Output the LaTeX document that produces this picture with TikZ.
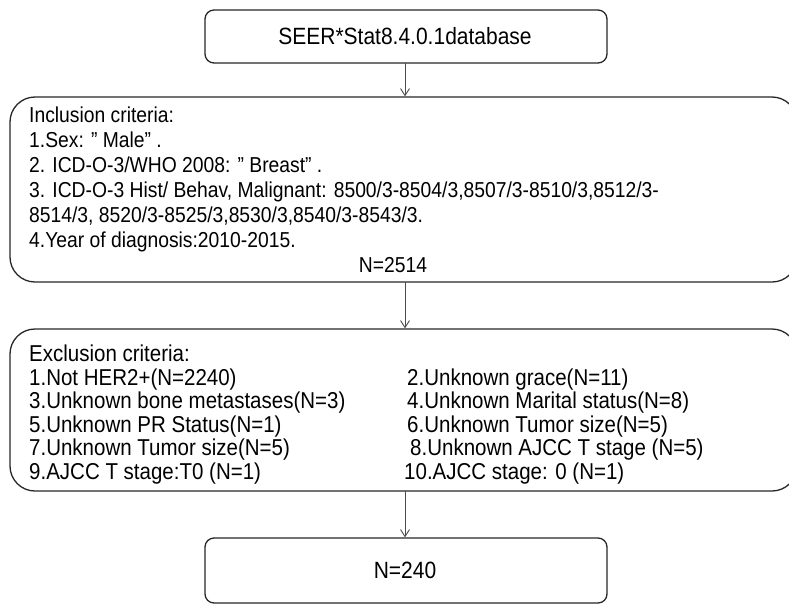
\documentclass[tikz,border=0pt]{standalone}
\usepackage{fontspec}
\setmainfont{Liberation Sans}
\usetikzlibrary{arrows.meta}
% slightly tall lettering
\newcommand{\tallstr}[1]{\scalebox{1}[1.12]{#1}}
\newcommand{\qq}{\symbol{34}}
\begin{document}
\begin{tikzpicture}[x=1pt,y=-1pt,
  smallbox/.style={draw=black!85, line width=1.3pt, rounded corners=9pt, rectangle, inner sep=0pt},
  bigbox/.style={draw=black!85, line width=1.3pt, rounded corners=25pt, rectangle, inner sep=0pt},
  link/.style={draw=black!70, line width=0.9pt, -{Straight Barb[length=7pt,width=9pt]}},
  txt/.style={anchor=base west, inner sep=0pt, font=\fontsize{19.3}{23}\selectfont},
  xtxt/.style={anchor=base west, inner sep=0pt, font=\fontsize{20.5}{24}\selectfont},
  ctxt/.style={anchor=base, inner sep=0pt, font=\fontsize{21}{25}\selectfont}
]
\useasboundingbox (0,0) rectangle (789,605);
\clip (0,0) rectangle (789,605);

% boxes
\node[smallbox, minimum width=402pt, minimum height=53pt] (src) at (406,36.5) {};
\node[bigbox, minimum width=787pt, minimum height=185pt] (inc) at (403.5,189.5) {};
\node[bigbox, minimum width=787pt, minimum height=162pt] (exc) at (403.5,410) {};
\node[smallbox, minimum width=402pt, minimum height=65pt] (fin) at (406,570.5) {};

% connectors
\coordinate (a1) at (405,63);
\draw[link] (a1) -- (a1 |- inc.north);
\coordinate (a2) at (405,282);
\draw[link] (a2) -- (a2 |- exc.north);
\coordinate (a3) at (405,491);
\draw[link] (a3) -- (a3 |- fin.north);

% source
\node[ctxt] (srct) at (405,44.5) {\tallstr{SEER*Stat8.4.0.1database}};

% inclusion criteria
\node[txt] (i0) at (29,122) {\tallstr{Inclusion criteria:}};
\node[txt] (i1) at (29,147) {\tallstr{1.Sex: \qq{} Male\qq{} .}};
\node[txt] (i2) at (29,172) {\tallstr{2. ICD-O-3/WHO 2008: \qq{} Breast\qq{} .}};
\node[txt] (i3) at (29,197) {\tallstr{3. ICD-O-3 Hist/ Behav, Malignant: 8500/3-8504/3,8507/3-8510/3,8512/3-}};
\node[txt] (i4) at (29,222) {\tallstr{8514/3, 8520/3-8525/3,8530/3,8540/3-8543/3.}};
\node[txt] (i5) at (29,247) {\tallstr{4.Year of diagnosis:2010-2015.}};
\node[txt, anchor=base] (i6) at (393,272) {\tallstr{N=2514}};

% exclusion criteria
\node[xtxt] (e0) at (29,361.5) {\tallstr{Exclusion criteria:}};
\node[xtxt] (e1) at (29,385.5) {\tallstr{1.Not HER2+(N=2240)}};
\node[xtxt] (e2) at (407,385.5) {\tallstr{2.Unknown grace(N=11)}};
\node[xtxt] (e3) at (29,408.5) {\tallstr{3.Unknown bone metastases(N=3)}};
\node[xtxt] (e4) at (407,408.5) {\tallstr{4.Unknown Marital status(N=8)}};
\node[xtxt] (e5) at (29,432.5) {\tallstr{5.Unknown PR Status(N=1)}};
\node[xtxt] (e6) at (407,432.5) {\tallstr{6.Unknown Tumor size(N=5)}};
\node[xtxt] (e7) at (29,455.5) {\tallstr{7.Unknown Tumor size(N=5)}};
\node[xtxt] (e8) at (410,455.5) {\tallstr{8.Unknown AJCC T stage (N=5)}};
\node[xtxt] (e9) at (29,479.5) {\tallstr{9.AJCC T stage:T0 (N=1)}};
\node[xtxt] (e10) at (404,479.5) {\tallstr{10.AJCC stage: 0 (N=1)}};

% result
\node[ctxt] (fint) at (405,578.5) {\tallstr{N=240}};
\end{tikzpicture}
\end{document}
